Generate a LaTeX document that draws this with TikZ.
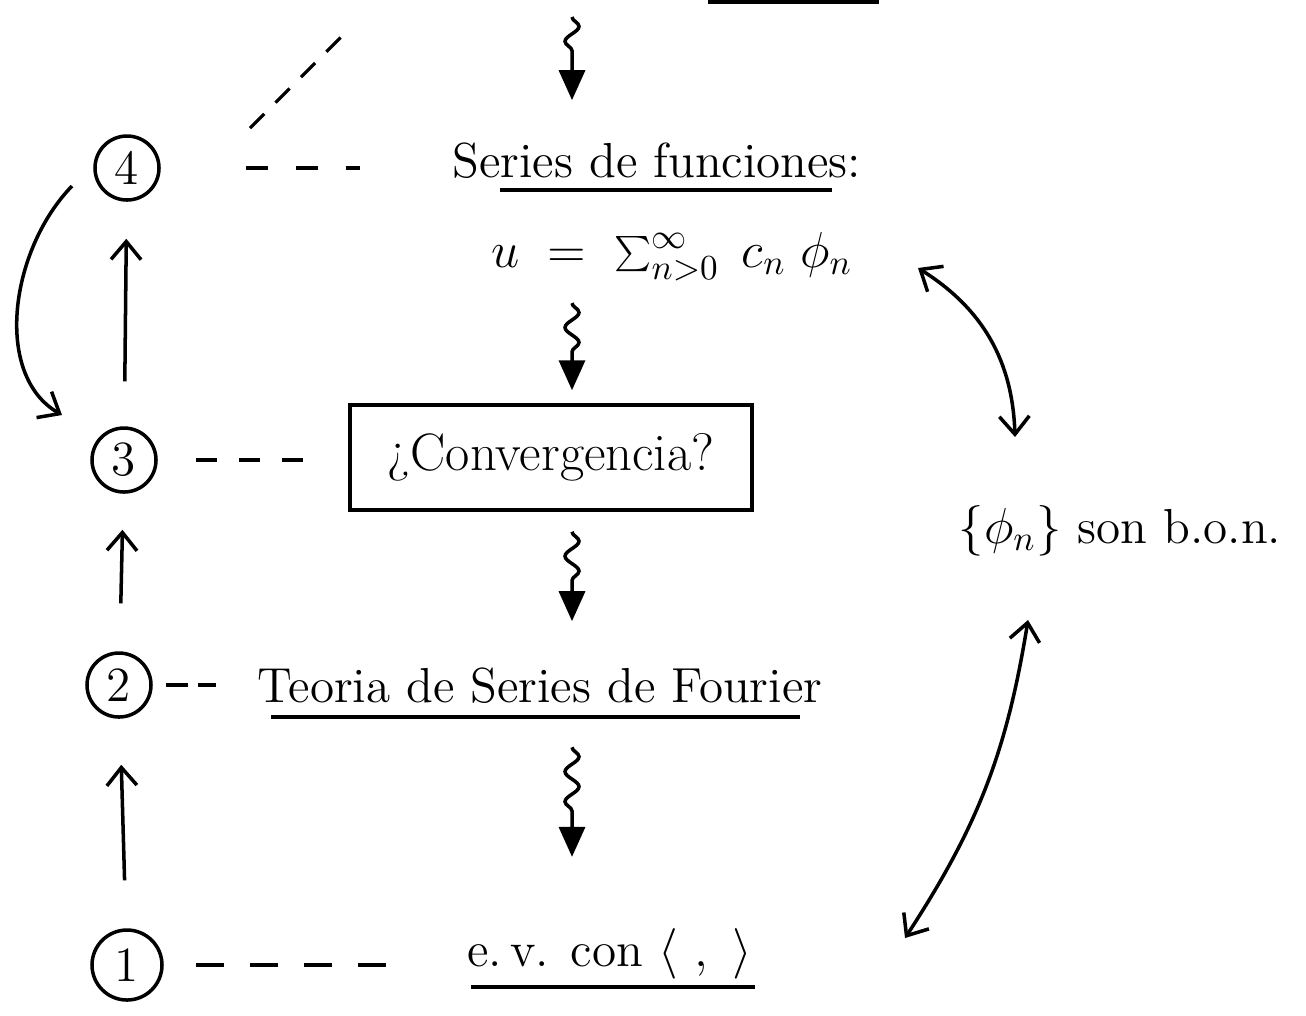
\documentclass[tikz,border=0pt]{standalone}
\usepackage{fontspec}
\usetikzlibrary{arrows.meta,decorations.pathmorphing,calc}
\tikzset{
  num/.style={draw,circle,line width=1pt,minimum size=6.4mm,inner sep=0pt,font=\fontsize{14}{16}\selectfont},
  txt/.style={anchor=base,inner sep=1pt,font=\fontsize{14}{17}\selectfont},
  goup/.style={line width=1pt,-{Straight Barb[length=1.8mm,width=3mm]}},
  twoway/.style={line width=1pt,{Straight Barb[length=1.8mm,width=3mm]}-{Straight Barb[length=1.8mm,width=3mm]}},
  link/.style={line width=0.9pt,dash pattern=on 2.2mm off 2.8mm},
  squig/.style={line width=1pt,-{Triangle[length=3mm,width=2.6mm]},decorate,
    decoration={snake,amplitude=0.7mm,segment length=3mm,post length=3.5mm}},
  uline/.style={line width=1pt}
}
\begin{document}
\begin{tikzpicture}
          \useasboundingbox (0,0) rectangle (13.06,-10.15);
          % steps on the left
          \node[num] (c4) at (1.27,-1.68) {4};
          \node[num] (c3) at (1.24,-4.60) {3};
          \node[num] (c2) at (1.19,-6.85) {2};
          \node[num,minimum size=7mm] (c1) at (1.27,-9.65) {1};

          % main column
          \node[txt] (series) at (6.57,-1.77) {Series de funciones:};
          \node[txt] (sum) at (6.72,-2.67) {$u \;=\; \sum_{n>0}^{\infty}\; c_n\;\phi_n$};
          \node[draw,line width=1pt,minimum width=4.02cm,minimum height=1.05cm,
                font=\fontsize{15}{17}\selectfont] (conv) at (5.51,-4.575) {¿Convergencia?};
          \node[txt] (fourier) at (5.40,-7.02) {Teoria de Series de Fourier};
          \node[txt] (ev) at (6.10,-9.66) {e.\,v. con $\langle\ ,\ \rangle$};
          \node[txt] (bon) at (11.20,-5.43) {$\{\phi_n\}$ son b.o.n.};

          \draw[uline] (7.08,-0.02) -- (8.79,-0.02);
          \draw[uline] (5.00,-1.90) -- (8.32,-1.90);
          \draw[uline] (2.71,-7.17) -- (8.00,-7.17);
          \draw[uline] (4.71,-9.87) -- (7.55,-9.87);

          % squiggly arrows down the column
          \coordinate (ax) at (5.72,-0.17);
          \draw[squig] (ax) -- ($(ax |- series.north)+(0,0.38)$);
          \draw[squig] ($(ax |- sum.south)+(0,-0.18)$) -- ($(ax |- conv.north)+(0,0.13)$);
          \draw[squig] ($(ax |- conv.south)+(0,-0.2)$) -- ($(ax |- fourier.north)+(0,0.42)$);
          \draw[squig] ($(ax |- fourier.south)+(0,-0.4)$) -- ($(ax |- ev.north)+(0,0.67)$);

          % dashed links
          \draw[link,shorten <=8.5mm,shorten >=8.8mm] (c4.east) -- (c4.east -| series.west);
          \draw[link,dash pattern=on 2.1mm off 2.2mm,shorten <=3.8mm,shorten >=4.3mm] (c3.east) -- (c3.east -| conv.west);
          \draw[link,dash pattern=on 2.2mm off 1mm,shorten <=1.3mm,shorten >=3.8mm] (c2.east) -- (c2.east -| fourier.west);
          \draw[link,dash pattern=on 2.8mm off 2.6mm,shorten <=3.2mm,shorten >=6mm] (c1.east) -- (c1.east -| ev.west);
          \coordinate (d0) at (2.50,-1.28);
          \coordinate (d1) at (3.46,-0.32);
          \draw[link,dash pattern=on 2mm off 1.6mm] (d0) -- (d1);

          % arrows between steps
          \draw[goup,shorten <=4.5mm,shorten >=3.7mm] (c3) -- (c4);
          \draw[goup,shorten <=4.8mm,shorten >=3.6mm] (c2) -- (c3);
          \draw[goup,shorten <=4.8mm,shorten >=4.6mm] (c1) -- (c2);
          \draw[goup] ($(c4)+(-0.55,-0.18)$) .. controls (0.1,-2.5) and (-0.07,-3.75) .. ($(c3)+(-0.62,0.45)$);

          % right side
          \coordinate (r1) at (9.18,-2.68);
          \coordinate (r2) at (10.15,-4.37);
          \coordinate (r3) at (10.28,-6.20);
          \coordinate (r4) at (9.05,-9.38);
          \draw[twoway] (r1) to[bend left=28] (r2);
          \draw[twoway] (r3) to[bend left=12] (r4);
\end{tikzpicture}
\end{document}
